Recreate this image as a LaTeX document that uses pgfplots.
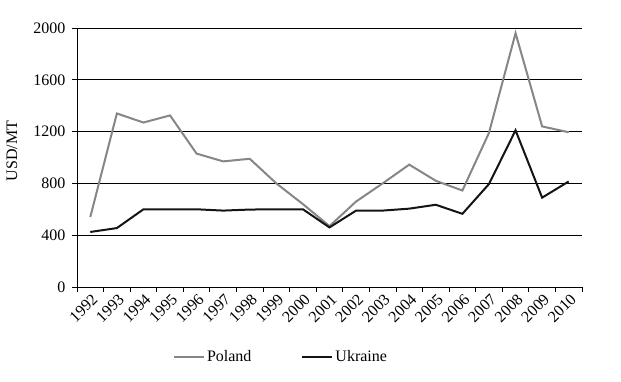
\documentclass[border=0pt]{standalone}
\usepackage{fontspec}
\setmainfont{Liberation Serif}
\usepackage{pgfplots}
\pgfplotsset{compat=1.18}
\definecolor{polgray}{RGB}{134,134,134}
\definecolor{ukrblack}{RGB}{20,20,20}
\begin{document}
\begin{tikzpicture}[x=1pt,y=1pt]
\useasboundingbox (0,0) rectangle (621,382);
\begin{axis}[
  at={(77pt,95pt)}, anchor=south west,
  scale only axis, width=505pt, height=259pt,
  xmin=-0.5, xmax=18.5, ymin=0, ymax=2000,
  ytick={0,400,...,2000},
  xtick={0,...,18},
  xticklabels={1992,1993,1994,1995,1996,1997,1998,1999,2000,2001,2002,2003,2004,2005,2006,2007,2008,2009,2010},
  minor xtick={-0.5,0.5,...,18.5},
  major x tick style={draw=none},
  tick align=outside, major tick length=5pt, minor tick length=5pt,
  ymajorgrids, grid style={black, line width=0.8pt},
  axis x line*=bottom, axis y line*=left,
  axis line style={-, black, line width=0.8pt},
  tick style={black, line width=0.8pt},
  /pgf/number format/assume math mode=true,
  /pgf/number format/1000 sep={},
  ticklabel style={font=\fontsize{16}{18}\selectfont},
  yticklabel style={xshift=-3pt},
  xticklabel style={rotate=45, anchor=north east, inner sep=1pt, xshift=1pt},
  ylabel={USD/MT},
  ylabel style={font=\fontsize{16}{18}\selectfont, at={(axis description cs:-0.129,0.525)}, anchor=center},
  legend style={at={(0.404,-0.27)}, anchor=center, draw=none, legend columns=2,
    font=\fontsize{16}{18}\selectfont,
    /tikz/every even column/.append style={column sep=48pt}},
  legend image code/.code={\draw[#1] (0pt,0pt) -- (30pt,0pt);},
]
\addplot[polgray, line width=2pt] coordinates {
(0,540) (1,1340) (2,1270) (3,1325) (4,1030) (5,970) (6,990) (7,800) (8,640) (9,470)
(10,660) (11,800) (12,945) (13,820) (14,745) (15,1190) (16,1960) (17,1240) (18,1195)};
\addlegendentry{Poland}
\addplot[ukrblack, line width=2pt] coordinates {
(0,425) (1,455) (2,600) (3,600) (4,600) (5,590) (6,598) (7,600) (8,600) (9,460)
(10,590) (11,590) (12,605) (13,635) (14,565) (15,795) (16,1210) (17,690) (18,815)};
\addlegendentry{Ukraine}
\end{axis}
\end{tikzpicture}
\end{document}
